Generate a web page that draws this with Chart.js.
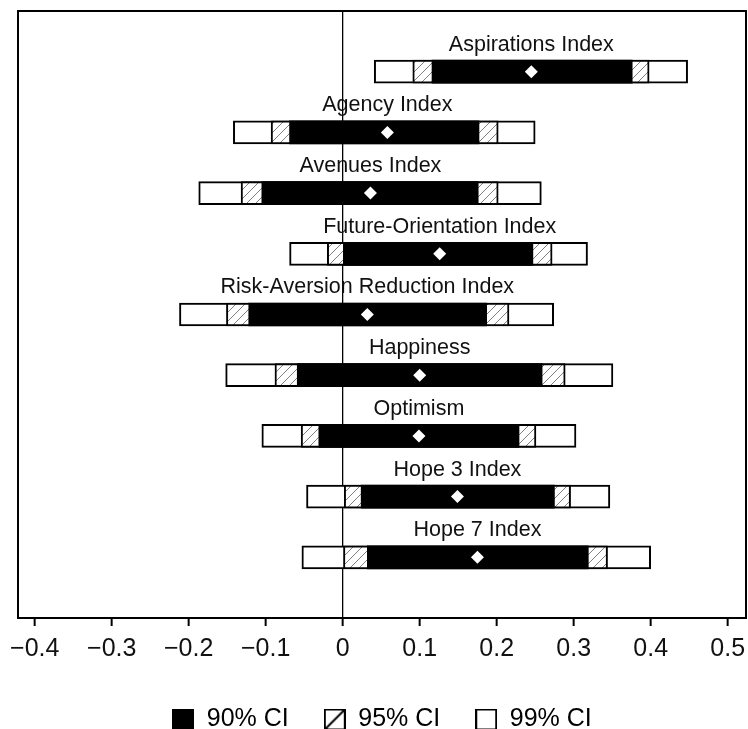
<!DOCTYPE html>
<html>
<head>
<meta charset="utf-8">
<script src="https://cdn.jsdelivr.net/npm/chart.js@4/dist/chart.umd.min.js"></script>
<style>
  html, body { margin: 0; padding: 0; background: #fff; }
  canvas { display: block; }
</style>
</head>
<body>
<canvas id="ciChart" width="748" height="729"></canvas>
<script>
// point estimates and confidence intervals
const categories = ['Aspirations Index', 'Agency Index', 'Avenues Index', 'Future-Orientation Index',
    'Risk-Aversion Reduction Index', 'Happiness', 'Optimism', 'Hope 3 Index', 'Hope 7 Index'];
const estimate = [0.245, 0.058, 0.036, 0.126, 0.032, 0.100, 0.099, 0.149, 0.175];
const lo90 = [0.116, -0.069, -0.105, 0.000, -0.122, -0.059, -0.031, 0.024, 0.032];
const hi90 = [0.376, 0.177, 0.176, 0.247, 0.187, 0.259, 0.229, 0.275, 0.319];
const lo95 = [0.091, -0.093, -0.132, -0.020, -0.151, -0.088, -0.054, 0.002, 0.001];
const hi95 = [0.398, 0.202, 0.202, 0.272, 0.216, 0.289, 0.251, 0.296, 0.344];
const lo99 = [0.041, -0.142, -0.187, -0.069, -0.212, -0.152, -0.105, -0.047, -0.053];
const hi99 = [0.448, 0.250, 0.258, 0.318, 0.274, 0.351, 0.303, 0.347, 0.400];
const xTicks = [-0.4, -0.3, -0.2, -0.1, 0, 0.1, 0.2, 0.3, 0.4, 0.5];
const legendLabels = ['90% CI', '95% CI', '99% CI'];

const FONT = "'Liberation Sans', Arial, sans-serif";

// diagonal hatch used for the 95% interval
function makeHatch() {
    const c = document.createElement('canvas');
    c.width = 9; c.height = 9;
    const g = c.getContext('2d');
    g.fillStyle = '#fff';
    g.fillRect(0, 0, 9, 9);
    g.strokeStyle = '#808080';
    g.lineWidth = 1;
    g.beginPath();
    g.moveTo(-1, 10); g.lineTo(10, -1);
    g.moveTo(-1, 1); g.lineTo(1, -1);
    g.moveTo(8, 10); g.lineTo(10, 8);
    g.stroke();
    return g.createPattern(c, 'repeat');
}
const hatch = makeHatch();

// small legend swatches
function swatch(kind) {
    const c = document.createElement('canvas');
    c.width = 22; c.height = 22;
    const g = c.getContext('2d');
    if (kind === 'solid') {
        g.fillStyle = '#000';
        g.fillRect(0, 0, 22, 22);
    } else {
        g.fillStyle = '#fff';
        g.fillRect(0, 0, 22, 22);
        g.strokeStyle = '#000';
        g.lineWidth = 2;
        g.strokeRect(1, 1, 20, 20);
        if (kind === 'hatch') {
            g.beginPath();
            g.moveTo(2, 20); g.lineTo(20, 2);
            g.stroke();
        }
    }
    return c;
}
const swatches = [swatch('solid'), swatch('hatch'), swatch('empty')];

const yPos = categories.map((_, i) => i + 1);
const rangeData = (lo, hi) => yPos.map((y, i) => ({ x: [lo[i], hi[i]], y: y }));

// labels above each bar, centred on the point estimate
const barLabels = {
    id: 'barLabels',
    afterDatasetsDraw(chart) {
        const { ctx, scales: { x, y } } = chart;
        ctx.save();
        ctx.font = '21.5px ' + FONT;
        ctx.fillStyle = '#111';
        ctx.textAlign = 'center';
        ctx.textBaseline = 'middle';
        categories.forEach((name, i) => {
            ctx.fillText(name, x.getPixelForValue(estimate[i]), y.getPixelForValue(yPos[i]) - 27);
        });
        ctx.restore();
    }
};

// frame around the plotting area
const frame = {
    id: 'frame',
    afterDraw(chart) {
        const a = chart.chartArea;
        const ctx = chart.ctx;
        ctx.save();
        ctx.strokeStyle = '#000';
        ctx.lineWidth = 2;
        ctx.strokeRect(a.left, a.top, a.right - a.left, a.bottom - a.top);
        ctx.restore();
    }
};

new Chart(document.getElementById('ciChart'), {
    type: 'bar',
    data: {
        datasets: [
            {
                type: 'scatter',
                label: 'Estimate',
                data: yPos.map((y, i) => ({ x: estimate[i], y: y })),
                pointStyle: 'rectRot',
                pointRadius: 6.5,
                pointBackgroundColor: '#fff',
                pointBorderWidth: 0,
                showLine: false
            },
            {
                label: legendLabels[0],
                data: rangeData(lo90, hi90),
                backgroundColor: '#000',
                borderWidth: 0,
                barThickness: 23,
                grouped: false
            },
            {
                label: legendLabels[1],
                data: rangeData(lo95, hi95),
                backgroundColor: hatch,
                borderColor: '#000',
                borderWidth: 2,
                borderSkipped: false,
                barThickness: 23,
                grouped: false
            },
            {
                label: legendLabels[2],
                data: rangeData(lo99, hi99),
                backgroundColor: '#fff',
                borderColor: '#000',
                borderWidth: 2,
                borderSkipped: false,
                barThickness: 23,
                grouped: false
            }
        ]
    },
    options: {
        indexAxis: 'y',
        responsive: false,
        animation: false,
        layout: { autoPadding: false, padding: { left: 18, right: 2, top: 11, bottom: -13 } },
        scales: {
            x: {
                type: 'linear',
                min: -0.4217,
                max: 0.5238,
                afterBuildTicks: axis => { axis.ticks = xTicks.map(v => ({ value: v })); },
                afterFit: axis => { axis.paddingLeft = 0; axis.paddingRight = 0; },
                ticks: {
                    color: '#111',
                    font: { family: FONT, size: 25 },
                    padding: 8,
                    maxRotation: 0,
                    autoSkip: false,
                    callback: v => v < 0 ? '\u2212' + Math.abs(v) : String(v)
                },
                grid: {
                    color: c => c.tick && c.tick.value === 0 ? '#000' : 'rgba(0,0,0,0)',
                    lineWidth: 1.3,
                    tickColor: '#000',
                    tickWidth: 2,
                    tickLength: 8
                },
                border: { display: true, color: '#000', width: 2 }
            },
            y: {
                type: 'linear',
                min: 0,
                max: 10,
                reverse: true,
                offset: false,
                display: false
            }
        },
        plugins: {
            tooltip: { enabled: false },
            legend: {
                position: 'bottom',
                labels: {
                    color: '#111',
                    font: { family: FONT, size: 25 },
                    usePointStyle: true,
                    boxWidth: 22,
                    boxHeight: 22,
                    padding: 35,
                    generateLabels: () => legendLabels.map((t, i) => ({
                        text: t,
                        pointStyle: swatches[i],
                        fillStyle: '#000',
                        strokeStyle: '#000',
                        lineWidth: 0,
                        hidden: false,
                        datasetIndex: i + 1
                    }))
                }
            }
        }
    },
    plugins: [barLabels, frame]
});
</script>
</body>
</html>
